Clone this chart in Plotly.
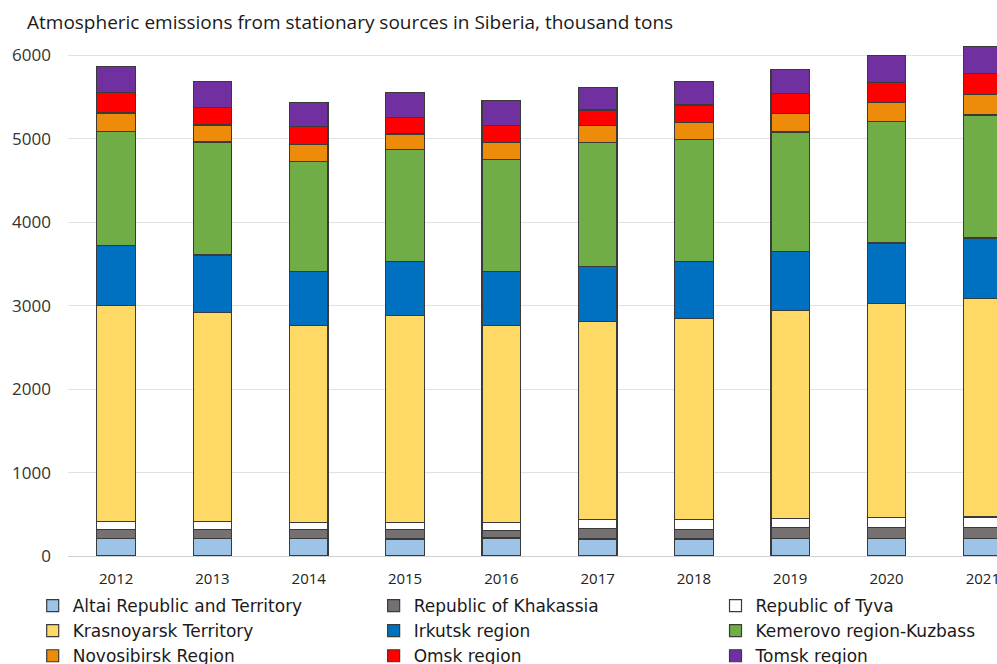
import plotly.graph_objects as go

# Years on the category axis
years = ["2012", "2013", "2014", "2015", "2016", "2017", "2018", "2019", "2020", "2021"]

# Emissions by region, thousand tons (stacked bottom to top)
altai = [212, 212, 208, 204, 216, 204, 204, 212, 212, 212]
khakassia = [108, 108, 108, 112, 92, 124, 112, 128, 128, 128]
tyva = [92, 92, 88, 88, 96, 108, 120, 112, 120, 128]
krasnoyarsk = [2588, 2508, 2364, 2480, 2364, 2376, 2416, 2496, 2568, 2620]
irkutsk = [720, 688, 644, 648, 640, 660, 680, 704, 724, 724]
kemerovo = [1368, 1356, 1316, 1344, 1344, 1488, 1464, 1432, 1456, 1476]
novosibirsk = [224, 204, 208, 184, 208, 200, 200, 224, 232, 240]
omsk = [240, 212, 216, 200, 200, 188, 212, 232, 240, 252]
tomsk = [320, 308, 288, 292, 300, 264, 284, 292, 320, 332]

y_ticks = [0, 1000, 2000, 3000, 4000, 5000, 6000]

series = [
    ("Altai Republic and Territory", altai, "#9DC3E6", "legend"),
    ("Republic of Khakassia", khakassia, "#767171", "legend2"),
    ("Republic of Tyva", tyva, "#FFFFFF", "legend3"),
    ("Krasnoyarsk Territory", krasnoyarsk, "#FFD966", "legend"),
    ("Irkutsk region", irkutsk, "#0070C0", "legend2"),
    ("Kemerovo region-Kuzbass", kemerovo, "#70AD47", "legend3"),
    ("Novosibirsk Region", novosibirsk, "#ED8B0A", "legend"),
    ("Omsk region", omsk, "#FF0000", "legend2"),
    ("Tomsk region", tomsk, "#7030A0", "legend3"),
]

fig = go.Figure()
for name, vals, color, leg in series:
    fig.add_trace(go.Bar(
        x=years, y=vals, name=name, legend=leg,
        marker=dict(color=color, line=dict(color="#3A3A3A", width=1.2)),
    ))

legend_font = dict(family="DejaVu Sans, sans-serif", size=17, color="#1a1a1a")
legend_common = dict(orientation="v", traceorder="normal", yanchor="top", y=-0.062,
                     xanchor="left", font=legend_font, bgcolor="rgba(0,0,0,0)",
                     itemclick=False)

fig.update_layout(
    width=997, height=664,
    margin=dict(l=68, r=0, t=40, b=108, autoexpand=False),
    paper_bgcolor="white", plot_bgcolor="white",
    barmode="stack", bargap=0.6,
    title=dict(
        text="Atmospheric emissions from stationary sources in Siberia, thousand tons",
        xref="container", x=27 / 997, xanchor="left",
        yref="container", y=1 - 22 / 664, yanchor="middle",
        font=dict(family="Open Sans, sans-serif", size=19, color="#1a1a1a"),
    ),
    xaxis=dict(
        type="category", range=[-0.5, 9.147],
        showgrid=False, showline=False, ticks="", ticklabelstandoff=12,
        tickfont=dict(family="Open Sans, sans-serif", size=15, color="#222222"),
    ),
    yaxis=dict(
        range=[0, 6186], tickvals=y_ticks,
        showgrid=True, gridcolor="#E2E2E2", gridwidth=1.3,
        zeroline=True, zerolinecolor="#D0D0D0", zerolinewidth=1.3,
        showline=False, ticks="", ticklabelstandoff=16,
        tickfont=dict(family="Open Sans, sans-serif", size=17, color="#333333"),
    ),
    legend=dict(x=-0.038, **legend_common),
    legend2=dict(x=0.329, **legend_common),
    legend3=dict(x=0.697, **legend_common),
)

fig.write_html("out.html")
